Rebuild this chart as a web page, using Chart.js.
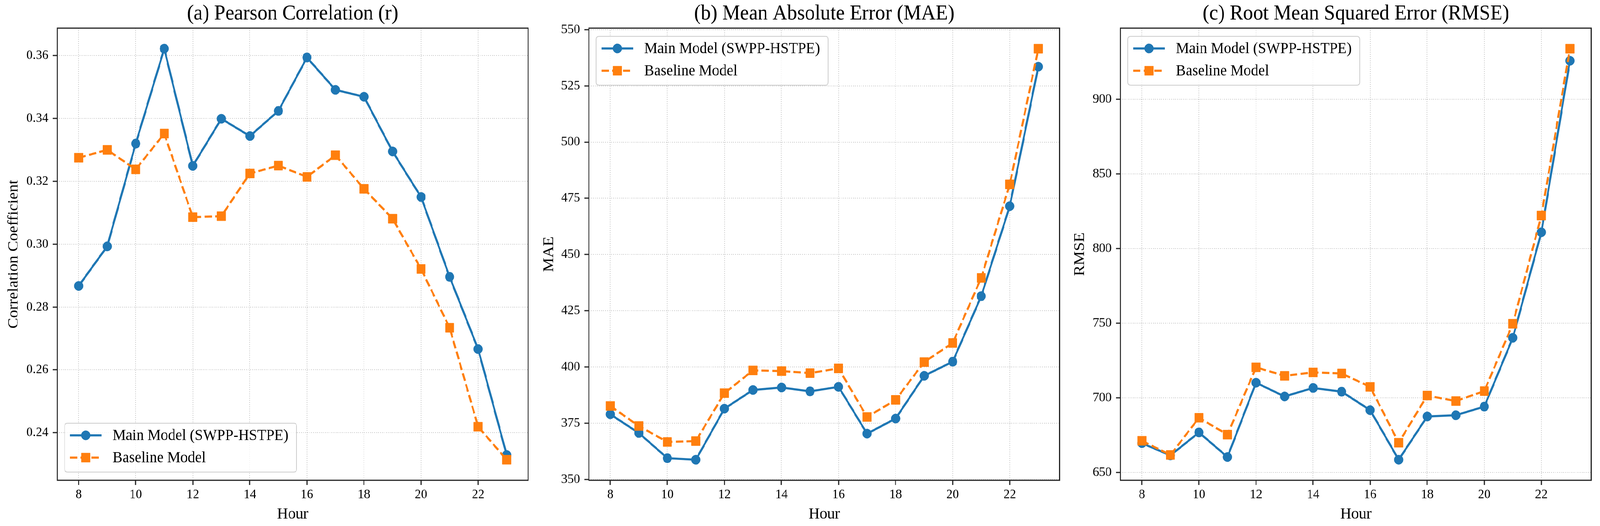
<!DOCTYPE html>
<html>
<head>
<meta charset="utf-8">
<script src="https://cdn.jsdelivr.net/npm/chart.js@4"></script>
<style>
  html, body { margin: 0; padding: 0; background: #ffffff; overflow: hidden; }
  #wrap { position: absolute; left: 0; top: 0; width: 4331px; height: 1346px; transform-origin: 0 0; background: #ffffff; }
  #wrap canvas { position: absolute; top: 0; }
</style>
</head>
<body>
<div id="wrap">
<canvas id="c0"></canvas>
<canvas id="c1"></canvas>
<canvas id="c2"></canvas>
</div>
<script>
// ---------------- DATA ----------------
const hours = [8, 9, 10, 11, 12, 13, 14, 15, 16, 17, 18, 19, 20, 21, 22, 23];
const xTicks = [8, 10, 12, 14, 16, 18, 20, 22];

const seriesNames = ["Main Model (SWPP-HSTPE)", "Baseline Model"];

const pearsonMain = [0.2867, 0.2993, 0.3320, 0.3622, 0.3249, 0.3399, 0.3344, 0.3424, 0.3594, 0.3491, 0.3469, 0.3295, 0.3150, 0.2896, 0.2666, 0.2329];
const pearsonBase = [0.3275, 0.3300, 0.3238, 0.3352, 0.3086, 0.3089, 0.3225, 0.3250, 0.3214, 0.3283, 0.3176, 0.3081, 0.2921, 0.2734, 0.2419, 0.2314];

const maeMain = [379.0, 370.7, 359.5, 358.8, 381.5, 389.8, 390.9, 389.2, 391.2, 370.4, 377.1, 396.1, 402.4, 431.5, 471.5, 533.5];
const maeBase = [382.7, 373.8, 366.7, 367.1, 388.4, 398.5, 398.2, 397.3, 399.4, 377.8, 385.4, 402.2, 410.7, 439.6, 481.2, 541.5];

const rmseMain = [669.7, 661.5, 676.9, 660.4, 710.2, 701.0, 706.7, 704.2, 691.8, 658.6, 687.6, 688.4, 694.2, 740.3, 811.0, 925.9];
const rmseBase = [671.3, 661.8, 686.7, 675.4, 720.5, 714.8, 717.1, 716.4, 707.4, 670.0, 701.6, 697.9, 704.6, 749.7, 822.2, 934.0];

const yTicksA = [0.24, 0.26, 0.28, 0.30, 0.32, 0.34, 0.36];
const yTicksB = [350, 375, 400, 425, 450, 475, 500, 525, 550];
const yTicksC = [650, 700, 750, 800, 850, 900];

const titles = ["(a) Pearson Correlation (r)", "(b) Mean Absolute Error (MAE)", "(c) Root Mean Squared Error (RMSE)"];
const yLabels = ["Correlation Coefficient", "MAE", "RMSE"];
const xLabel = "Hour";

// ---------------- STYLE / LAYOUT ----------------
const FONT = "'Liberation Serif', 'Times New Roman', serif";
const BLUE = "#1f77b4";
const ORANGE = "#ff7f0e";
const PLOT_LEFTS = [155, 1594, 3033];
const PLOT_W = 1284;
const YAXIS_W = 155;
const PAD_R = 8;
const CANVAS_H = 1346;
const XAXIS_H = 117;

const SX = (window.innerWidth || 4331) / 4331;
const SY = (window.innerHeight || 1346) / 1346;
document.getElementById('wrap').style.transform = 'scale(' + SX + ',' + SY + ')';
const DPR = (window.devicePixelRatio || 1) * Math.max(SX, SY);

function spinesPlugin() {
  return {
    id: 'spines',
    afterDatasetsDraw(chart) {
      const a = chart.chartArea, ctx = chart.ctx;
      ctx.save();
      ctx.strokeStyle = '#222';
      ctx.lineWidth = 3;
      ctx.setLineDash([]);
      ctx.strokeRect(a.left, a.top, a.right - a.left, a.bottom - a.top);
      ctx.restore();
    }
  };
}

function legendPlugin(pos) {
  return {
    id: 'mplLegend',
    afterDraw(chart) {
      const a = chart.chartArea, ctx = chart.ctx;
      const w = 628, h = 125;
      const x = a.left + 20;
      const y = pos === 'lower' ? a.bottom - 21 - h : a.top + 21;
      ctx.save();
      const r = 8;
      ctx.beginPath();
      ctx.moveTo(x + r, y);
      ctx.lineTo(x + w - r, y);
      ctx.quadraticCurveTo(x + w, y, x + w, y + r);
      ctx.lineTo(x + w, y + h - r);
      ctx.quadraticCurveTo(x + w, y + h, x + w - r, y + h);
      ctx.lineTo(x + r, y + h);
      ctx.quadraticCurveTo(x, y + h, x, y + h - r);
      ctx.lineTo(x, y + r);
      ctx.quadraticCurveTo(x, y, x + r, y);
      ctx.closePath();
      ctx.fillStyle = 'rgba(255,255,255,0.8)';
      ctx.fill();
      ctx.strokeStyle = '#cccccc';
      ctx.lineWidth = 2;
      ctx.setLineDash([]);
      ctx.stroke();
      const rows = [y + 31, y + 88];
      chart.data.datasets.forEach((ds, i) => {
        const cy = rows[i];
        ctx.strokeStyle = ds.borderColor;
        ctx.lineWidth = ds.borderWidth;
        ctx.setLineDash(ds.borderDash || []);
        ctx.lineCap = 'butt';
        ctx.beginPath();
        ctx.moveTo(x + 14, cy);
        ctx.lineTo(x + 100, cy);
        ctx.stroke();
        ctx.setLineDash([]);
        ctx.fillStyle = ds.pointBackgroundColor;
        ctx.strokeStyle = ds.pointBorderColor;
        ctx.lineWidth = 1;
        ctx.beginPath();
        if (ds.pointStyle === 'rect') {
          const s = ds.pointRadius * Math.SQRT1_2;
          ctx.rect(x + 57 - s, cy - s, 2 * s, 2 * s);
        } else {
          ctx.arc(x + 57, cy, ds.pointRadius, 0, Math.PI * 2);
        }
        ctx.fill();
        ctx.stroke();
        ctx.fillStyle = '#000';
        ctx.font = '40px ' + FONT;
        ctx.textBaseline = 'middle';
        ctx.textAlign = 'left';
        ctx.fillText(seriesNames[i], x + 130, cy + 1);
      });
      ctx.restore();
    }
  };
}

function toXY(vals) {
  return hours.map((h, i) => ({ x: h, y: vals[i] }));
}

function range(a, b) {
  const all = a.concat(b);
  const mn = Math.min(...all), mx = Math.max(...all);
  const m = (mx - mn) * 0.05;
  return [mn - m, mx + m];
}

function makeChart(idx, mainVals, baseVals, yTicks, fmt, yTitlePad, legendPos) {
  const cv = document.getElementById('c' + idx);
  const W = YAXIS_W + PLOT_W + PAD_R;
  cv.width = W; cv.height = CANVAS_H;
  cv.style.left = (PLOT_LEFTS[idx] - YAXIS_W) + 'px';
  cv.style.width = W + 'px'; cv.style.height = CANVAS_H + 'px';
  const [ymin, ymax] = range(mainVals, baseVals);
  const xr = [Math.min(...hours), Math.max(...hours)];
  const xm = (xr[1] - xr[0]) * 0.05;
  const gridCommon = {
    color: '#c4c4c4',
    lineWidth: 2,
    drawTicks: true,
    tickLength: 12,
    tickColor: '#222',
    tickWidth: 3,
    tickBorderDash: []
  };
  const borderCommon = { display: false, dash: [2, 3.5] };
  return new Chart(cv, {
    type: 'line',
    data: {
      datasets: [
        {
          label: seriesNames[0],
          data: toXY(mainVals),
          borderColor: BLUE,
          backgroundColor: BLUE,
          pointBackgroundColor: BLUE,
          pointBorderColor: BLUE,
          borderWidth: 5.5,
          pointStyle: 'circle',
          pointRadius: 12,
          pointBorderWidth: 1,
          tension: 0,
          fill: false,
          order: 1
        },
        {
          label: seriesNames[1],
          data: toXY(baseVals),
          borderColor: ORANGE,
          backgroundColor: ORANGE,
          pointBackgroundColor: ORANGE,
          pointBorderColor: ORANGE,
          borderWidth: 5.5,
          borderDash: [20, 9],
          pointStyle: 'rect',
          pointRadius: 16.5,
          pointBorderWidth: 1,
          tension: 0,
          fill: false,
          order: 0
        }
      ]
    },
    options: {
      responsive: false,
      animation: false,
      devicePixelRatio: DPR,
      layout: { padding: { left: 0, right: PAD_R, top: 0, bottom: 0 } },
      plugins: {
        legend: { display: false },
        tooltip: { enabled: false },
        title: {
          display: true,
          text: titles[idx],
          fullSize: false,
          color: '#000',
          font: { family: FONT, size: 54, weight: 'normal', lineHeight: 1 },
          padding: { top: 9, bottom: 9 }
        }
      },
      scales: {
        x: {
          type: 'linear',
          min: xr[0] - xm,
          max: xr[1] + xm,
          afterBuildTicks: (s) => { s.ticks = xTicks.map(v => ({ value: v })); },
          afterFit: (s) => { s.height = XAXIS_H; },
          ticks: {
            color: '#000',
            font: { family: FONT, size: 34 },
            padding: 4.6,
            maxRotation: 0,
            autoSkip: false,
            callback: (v) => String(v)
          },
          grid: gridCommon,
          border: borderCommon,
          title: {
            display: true,
            text: xLabel,
            color: '#000',
            font: { family: FONT, size: 41 },
            padding: { top: 0, bottom: 5.4 }
          }
        },
        y: {
          type: 'linear',
          min: ymin,
          max: ymax,
          afterBuildTicks: (s) => { s.ticks = yTicks.map(v => ({ value: v })); },
          afterFit: (s) => { s.width = YAXIS_W; },
          ticks: {
            color: '#000',
            font: { family: FONT, size: 34 },
            padding: 12,
            autoSkip: false,
            callback: fmt
          },
          grid: gridCommon,
          border: borderCommon,
          title: {
            display: true,
            text: yLabels[idx],
            color: '#000',
            font: { family: FONT, size: 41 },
            padding: { top: yTitlePad, bottom: 0 }
          }
        }
      }
    },
    plugins: [spinesPlugin(), legendPlugin(legendPos)]
  });
}

makeChart(0, pearsonMain, pearsonBase, yTicksA, (v) => Number(v).toFixed(2), 12.4, 'lower');
makeChart(1, maeMain, maeBase, yTicksB, (v) => String(Math.round(v)), 22.4, 'upper');
makeChart(2, rmseMain, rmseBase, yTicksC, (v) => String(Math.round(v)), 20.4, 'upper');
</script>
</body>
</html>
